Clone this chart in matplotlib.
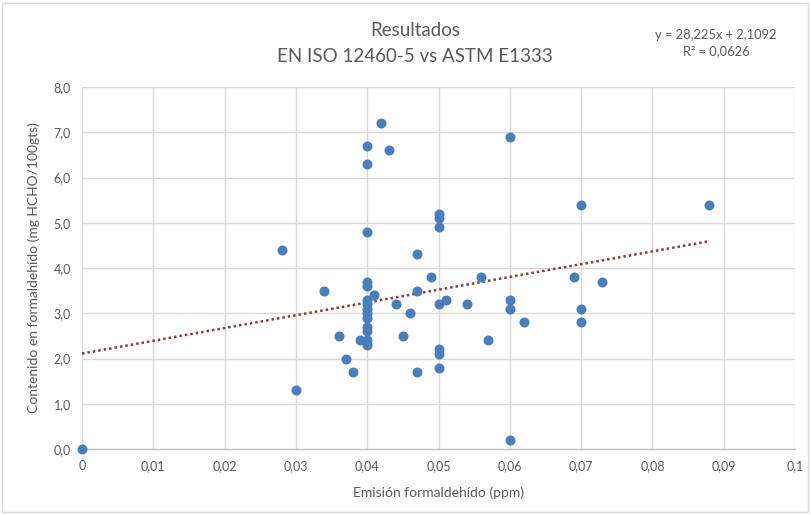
import matplotlib
matplotlib.use("Agg")
import matplotlib.pyplot as plt
import numpy as np
from matplotlib.patches import Rectangle

plt.rcParams['font.family'] = ['Lato', 'DejaVu Sans']

emision = [0.0, 0.028, 0.04, 0.042, 0.043, 0.04, 0.06, 0.05, 0.05, 0.05, 0.04,
           0.047, 0.049, 0.056, 0.04, 0.04, 0.034, 0.041, 0.04, 0.04, 0.04, 0.04,
           0.04, 0.047, 0.044, 0.046, 0.05, 0.051, 0.054, 0.06, 0.06, 0.062,
           0.04, 0.04, 0.04, 0.04, 0.039, 0.036, 0.045, 0.057, 0.037, 0.038,
           0.047, 0.05, 0.05, 0.05, 0.03, 0.06, 0.07, 0.088, 0.069, 0.073,
           0.07, 0.07]
contenido = [0.0, 4.4, 6.7, 7.2, 6.6, 6.3, 6.9, 5.2, 5.1, 4.9, 4.8,
             4.3, 3.8, 3.8, 3.7, 3.6, 3.5, 3.4, 3.3, 3.2, 3.1, 3.0,
             2.9, 3.5, 3.2, 3.0, 3.2, 3.3, 3.2, 3.3, 3.1, 2.8,
             2.7, 2.6, 2.4, 2.3, 2.4, 2.5, 2.5, 2.4, 2.0, 1.7,
             1.7, 2.2, 2.1, 1.8, 1.3, 0.2, 5.4, 5.4, 3.8, 3.7,
             3.1, 2.8]
slope = 28.225
intercept = 2.1092
x_ticks = [0, 0.01, 0.02, 0.03, 0.04, 0.05, 0.06, 0.07, 0.08, 0.09, 0.1]
x_tick_labels = ['0', '0,01', '0,02', '0,03', '0,04', '0,05', '0,06', '0,07', '0,08', '0,09', '0,1']
y_ticks = [0, 1, 2, 3, 4, 5, 6, 7, 8]
y_tick_labels = ['0,0', '1,0', '2,0', '3,0', '4,0', '5,0', '6,0', '7,0', '8,0']

grey = '#595959'
fig = plt.figure(figsize=(8.12, 5.15), dpi=100)
ax = fig.add_axes([82/812, 1-449/515, (795-82)/812, (449-87)/515])

ax.set_xlim(0, 0.1)
ax.set_ylim(0, 8)
ax.set_xticks(x_ticks)
ax.set_xticklabels(x_tick_labels)
ax.set_yticks(y_ticks)
ax.set_yticklabels(y_tick_labels)
ax.grid(True, color='#d9d9d9', linewidth=1.0)
ax.set_axisbelow(True)
for s in ['top', 'right', 'left']:
    ax.spines[s].set_visible(False)
ax.spines['bottom'].set_color('#bfbfbf')
ax.spines['bottom'].set_linewidth(1.0)
ax.tick_params(length=0, colors=grey, labelsize=9, pad=8)

xe = np.array([min(emision), max(emision)])
ax.plot(xe, slope * xe + intercept, linestyle=(0, (1, 1.2)), color='#8b3a3a',
        linewidth=1.8, zorder=2)
ax.scatter(emision, contenido, s=52, color='#4a7ebb', zorder=3, clip_on=False,
           linewidths=0)

ax.set_xlabel('Emisión formaldehído (ppm)', color=grey, fontsize=10, labelpad=10)
ax.set_ylabel('Contenido en formaldehído (mg HCHO/100gts)', color=grey, fontsize=10, labelpad=10)

fig.text(415/812, 1-30/515, 'Resultados', ha='center', va='center', color=grey, fontsize=13.5)
fig.text(415/812, 1-57/515, 'EN ISO 12460-5 vs ASTM E1333', ha='center', va='center', color=grey, fontsize=13.5)
fig.text(716/812, 1-35/515, 'y = 28,225x + 2,1092', ha='center', va='center', color=grey, fontsize=9.3)
fig.text(716/812, 1-51/515, 'R² = 0,0626', ha='center', va='center', color=grey, fontsize=9.3)

fig.patches.append(Rectangle((2/812, 0.005), 806/812, 0.99, transform=fig.transFigure,
                             fill=False, edgecolor='#d9d9d9', linewidth=1.0))

fig.savefig('out.png', dpi=100)
